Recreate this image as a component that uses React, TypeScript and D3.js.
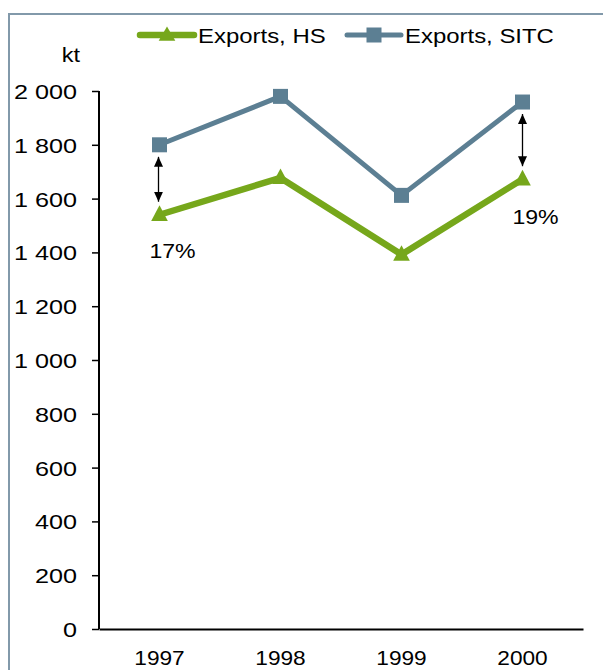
import React, { useEffect, useRef } from 'react';
import * as d3 from 'd3';

const years = ['1997', '1998', '1999', '2000'];
const exportsHS = [1540, 1677, 1392, 1672];
const exportsSITC = [1800, 1980, 1612, 1959];
const yTicks = [0, 200, 400, 600, 800, 1000, 1200, 1400, 1600, 1800, 2000];
const gapLabels = [
  { year: '1997', text: '17%' },
  { year: '2000', text: '19%' },
];

const GREEN = '#76a71b';
const BLUE = '#5c7f93';
const FONT = 'Arial, "Liberation Sans", sans-serif';

const App: React.FC = () => {
  const svgRef = useRef<SVGSVGElement>(null);

  useEffect(() => {
    if (!svgRef.current) return;
    const svg = d3.select(svgRef.current);
    svg.selectAll('*').remove();

    const W = 603;
    const H = 670;
    const margin = { top: 91, left: 99 };
    const width = 583 - margin.left;
    const height = 629 - margin.top;

    // text helper: the reference glyphs are a bit wider than they are tall
    const label = (
      parent: d3.Selection<any, unknown, null, undefined>,
      x: number, y: number, text: string,
      anchor: string, size: number, sx: number
    ) => parent.append('text')
      .attr('transform', `translate(${x},${y}) scale(${sx},1)`)
      .attr('text-anchor', anchor)
      .style('font-family', FONT)
      .style('font-size', `${size}px`)
      .attr('fill', '#000')
      .text(text);

    // outer frame
    svg.append('rect')
      .attr('x', 9).attr('y', 14)
      .attr('width', W).attr('height', H)
      .attr('fill', 'none')
      .attr('stroke', '#8299aa')
      .attr('stroke-width', 2);

    const defs = svg.append('defs');
    defs.append('marker')
      .attr('id', 'ah')
      .attr('viewBox', '0 0 10 10')
      .attr('refX', 10).attr('refY', 5)
      .attr('markerWidth', 10).attr('markerHeight', 9)
      .attr('markerUnits', 'userSpaceOnUse')
      .attr('orient', 'auto-start-reverse')
      .attr('preserveAspectRatio', 'none')
      .append('path')
      .attr('d', 'M0,0 L10,5 L0,10 Z')
      .attr('fill', '#000');

    const g = svg.append('g').attr('transform', `translate(${margin.left},${margin.top})`);

    const x = d3.scaleBand<string>().domain(years).range([0, width]);
    const y = d3.scaleLinear().domain([0, 2000]).range([height, 0]);
    const cx = (yr: string) => (x(yr) || 0) + x.bandwidth() / 2;

    // y axis
    const yAxis = g.append('g')
      .call(d3.axisLeft(y).tickValues(yTicks).tickSize(7).tickFormat(() => ''));
    yAxis.select('.domain').attr('stroke', '#000').attr('stroke-width', 2).attr('d', `M0,0V${height}`);
    yAxis.selectAll('.tick line').attr('stroke', '#000').attr('stroke-width', 1.5);
    yTicks.forEach(t => {
      const txt = d3.format(',')(t).replace(',', ' ');
      label(g, -22, y(t) + 8, txt, 'end', 21, 1.2);
    });

    // x axis
    const xAxis = g.append('g')
      .attr('transform', `translate(0,${height})`)
      .call(d3.axisBottom(x).tickSize(0).tickFormat(() => ''));
    xAxis.select('.domain').attr('stroke', '#000').attr('stroke-width', 2);
    years.forEach(yr => label(g, cx(yr), height + 36, yr, 'middle', 21, 1.08));

    // unit
    label(svg, 71, 62, 'kt', 'middle', 21, 1.12);

    const line = d3.line<number>()
      .x((_, i) => cx(years[i]))
      .y(d => y(d));

    // SITC
    g.append('path')
      .datum(exportsSITC)
      .attr('d', line)
      .attr('fill', 'none')
      .attr('stroke', BLUE)
      .attr('stroke-width', 5)
      .attr('stroke-linejoin', 'round');
    g.selectAll('.sq')
      .data(exportsSITC)
      .enter().append('rect')
      .attr('x', (_, i) => cx(years[i]) - 7.5)
      .attr('y', d => y(d) - 7.5)
      .attr('width', 15).attr('height', 15)
      .attr('fill', BLUE);

    // HS
    const tri = d3.symbol().type(d3.symbolTriangle).size(120);
    g.append('path')
      .datum(exportsHS)
      .attr('d', line)
      .attr('fill', 'none')
      .attr('stroke', GREEN)
      .attr('stroke-width', 6.5)
      .attr('stroke-linejoin', 'round');
    g.selectAll('.tri')
      .data(exportsHS)
      .enter().append('path')
      .attr('d', tri)
      .attr('transform', (d, i) => `translate(${cx(years[i])},${y(d) + 1}) scale(1,1.08)`)
      .attr('fill', GREEN);

    // gap arrows
    gapLabels.forEach(gl => {
      const i = years.indexOf(gl.year);
      const xx = cx(gl.year) + (i === 0 ? -1 : 0);
      g.append('line')
        .attr('x1', xx).attr('x2', xx)
        .attr('y1', y(exportsSITC[i]) + 12)
        .attr('y2', y(exportsHS[i]) - 13)
        .attr('stroke', '#000')
        .attr('stroke-width', 1.3)
        .attr('marker-start', 'url(#ah)')
        .attr('marker-end', 'url(#ah)');
    });

    label(g, cx('1997') + 13, y(exportsHS[0]) + 43, gapLabels[0].text, 'middle', 21, 1.1);
    label(g, cx('2000') + 13, y(exportsHS[3]) + 45, gapLabels[1].text, 'middle', 21, 1.1);

    // legend
    const legend = svg.append('g');
    const items = [
      { label: 'Exports, HS', color: GREEN, x: 140, w: 6.5, kind: 'tri' },
      { label: 'Exports, SITC', color: BLUE, x: 347, w: 5, kind: 'sq' },
    ];
    items.forEach(it => {
      const ly = 35;
      legend.append('line')
        .attr('x1', it.x).attr('x2', it.x + 54)
        .attr('y1', ly).attr('y2', ly)
        .attr('stroke', it.color)
        .attr('stroke-width', it.w)
        .attr('stroke-linecap', 'round');
      if (it.kind === 'tri') {
        legend.append('path')
          .attr('d', tri)
          .attr('transform', `translate(${it.x + 27},${ly + 1})`)
          .attr('fill', it.color);
      } else {
        legend.append('rect')
          .attr('x', it.x + 19.5).attr('y', ly - 7.5)
          .attr('width', 15).attr('height', 15)
          .attr('fill', it.color);
      }
      label(legend, it.x + 58, ly + 8, it.label, 'start', 21, 1.14);
    });
  }, []);

  return (
    <svg
      ref={svgRef}
      width={603}
      height={670}
      style={{ position: 'absolute', left: 0, top: 0, background: '#fff' }}
    />
  );
};

export default App;
